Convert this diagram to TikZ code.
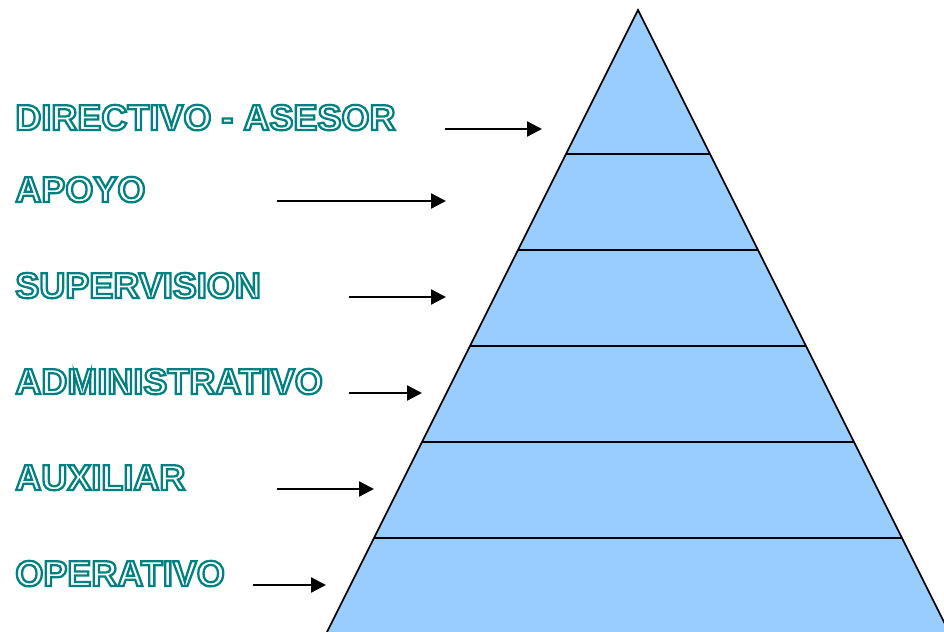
\documentclass[tikz,border=0pt]{standalone}
\usepackage{fontspec}
\setmainfont{Liberation Sans}
\usepackage{xcolor}
\usetikzlibrary{arrows.meta}

\definecolor{levelblue}{RGB}{153,204,255}
\definecolor{outlineteal}{RGB}{0,128,128}

% hollow lettering: stroke only (text render mode 1), in teal
\newcommand{\hollow}[1]{\textcolor{outlineteal}{\special{pdf:literal direct 1 Tr 1.3 w}#1\special{pdf:literal direct 0 Tr}}}

\begin{document}
\begin{tikzpicture}[x=0.02cm, y=-0.02cm,
  lbl/.style={anchor=base west, inner sep=0pt, font=\fontsize{20.5}{24}\selectfont\bfseries},
  arr/.style={-{Triangle[length=0.3cm,width=0.3cm]}, line width=1.3pt}]
\useasboundingbox (0,0) rectangle (944,632);
\clip (0,0) rectangle (944,632);

% pyramid
\coordinate (top) at (638,10);
\coordinate (bl) at (327,632);
\coordinate (br) at (949,632);
\fill[levelblue] (top) -- (bl) -- (br) -- cycle;
\foreach \y in {154,250,346,442,538}
  \draw[line width=1pt] ({638-0.5*(\y-10)},\y) -- ({638+0.5*(\y-10)},\y);
\draw[line width=1pt] (bl) -- (top) -- (br);

% levels
\node(dir)[lbl] at (15,130) {\hollow{DIRECTIVO - ASESOR}};
\node(apo)[lbl] at (15,202) {\hollow{APOYO}};
\node(sup)[lbl] at (15,298) {\hollow{SUPERVISION}};
\node(adm)[lbl] at (15,394) {\hollow{ADMINISTRATIVO}};
\node(aux)[lbl] at (15,490) {\hollow{AUXILIAR}};
\node(ope)[lbl] at (15,586) {\hollow{OPERATIVO}};

% arrows into the pyramid
\coordinate (dir1) at (445,129); \coordinate (dir2) at (542,129);
\coordinate (apo1) at (277,201); \coordinate (apo2) at (446,201);
\coordinate (sup1) at (349,297); \coordinate (sup2) at (446,297);
\coordinate (adm1) at (349,393); \coordinate (adm2) at (422,393);
\coordinate (aux1) at (277,489); \coordinate (aux2) at (374,489);
\coordinate (ope1) at (253,585); \coordinate (ope2) at (326,585);

\draw[arr] (dir1) -- (dir2);
\draw[arr] (apo1) -- (apo2);
\draw[arr] (sup1) -- (sup2);
\draw[arr] (adm1) -- (adm2);
\draw[arr] (aux1) -- (aux2);
\draw[arr] (ope1) -- (ope2);
\end{tikzpicture}
\end{document}
